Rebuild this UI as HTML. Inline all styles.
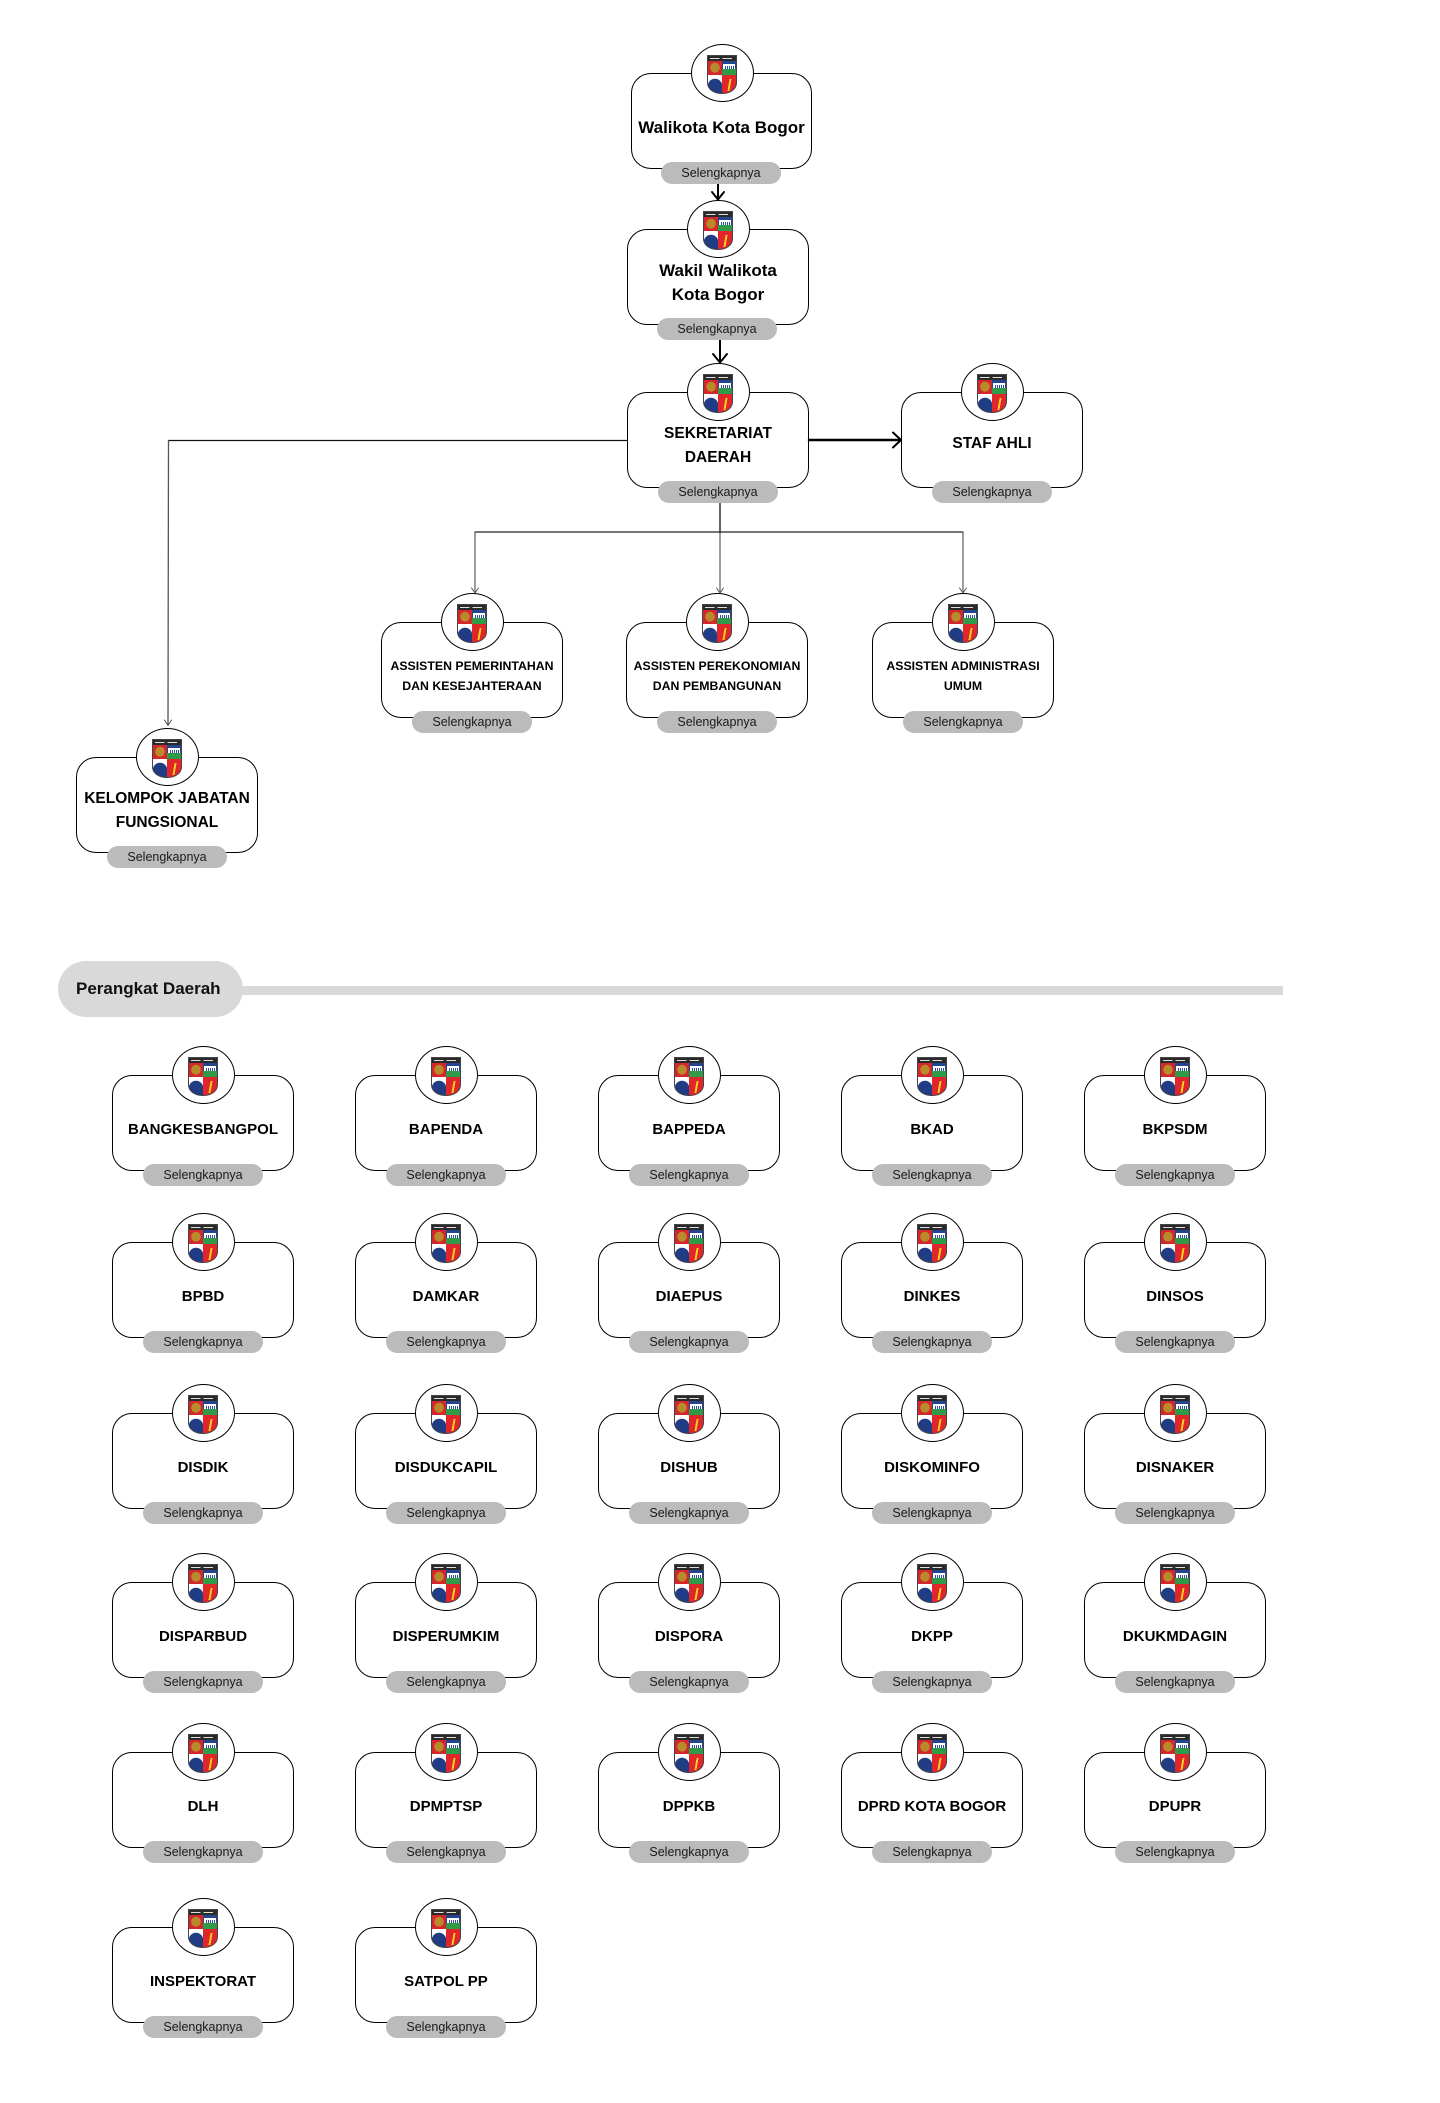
<!DOCTYPE html>
<html>
<head>
<meta charset="utf-8">
<style>
html,body{margin:0;padding:0;background:#fff;}
body{width:1440px;height:2103px;position:relative;overflow:hidden;font-family:"Liberation Sans",Arial,sans-serif;}
svg.wires{position:absolute;left:0;top:0;width:1440px;height:2103px;}
.n{position:absolute;width:182px;height:96px;}
.n::before{content:"";position:absolute;left:0;top:0;right:0;bottom:0;border:1.5px solid #000;border-radius:20px;}
.c{position:absolute;left:59.5px;top:-29px;width:63px;height:58px;box-sizing:border-box;border:1.5px solid #000;border-radius:50%;background:#fff;}
.c i{display:block;position:absolute;left:15px;top:10px;width:28px;height:37px;border:1px solid #444;border-radius:0 0 14px 14px/0 0 11px 11px;overflow:hidden;
background:
 linear-gradient(90deg,#ddd 0 40%,transparent 40% 52%,#ddd 52% 92%,transparent 92%) 2px 2px/24px 1px no-repeat,
 linear-gradient(#2a2a2a,#2a2a2a) 0 0/100% 5px no-repeat,
 radial-gradient(ellipse at 50% 48%,#b98a2c 0 46%,transparent 50%) 0 5px/14px 14px no-repeat,
 repeating-linear-gradient(90deg,#fff 0 1px,#2d4f9a 1px 2px) 16px 9.5px/10px 3px no-repeat,
 linear-gradient(#fff,#fff) 15px 8px/12px 5px no-repeat,
 linear-gradient(#2f9a48,#2f9a48) 14px 13px/14px 6px no-repeat,
 linear-gradient(#23448e,#23448e) 14px 5px/14px 8px no-repeat,
 linear-gradient(#d4262b,#d4262b) 0 5px/14px 14px no-repeat,
 linear-gradient(#1f3c85,#1f3c85) 0 30px/14px 8px no-repeat,
 radial-gradient(circle at 7px 8px,#1f3c85 0 7px,transparent 7.5px) 0 22px/14px 16px no-repeat,
 linear-gradient(100deg,transparent 36%,#f2d21c 36% 64%,transparent 64%) 19px 23px/5px 12px no-repeat,
 linear-gradient(#fff,#fff) 0 19px/14px 18px no-repeat,
 linear-gradient(#e1262b,#e1262b) 14px 19px/14px 18px no-repeat;}
.t{position:absolute;left:0;right:0;top:43px;text-align:center;font-weight:bold;font-size:15px;line-height:24px;color:#000;white-space:nowrap;}
.t.big{font-size:17px;}
.t.mid{font-size:15.5px;}
.t.sm{font-size:12.3px;line-height:20px;top:34px;}
.p{position:absolute;left:31px;top:89px;width:120px;height:22px;border-radius:11px;background:#bbbbbb;font-size:12.5px;line-height:22px;text-align:center;color:#1a1a1a;}
.hdr{position:absolute;left:58px;top:961px;width:185px;height:56px;border-radius:28px;background:#d9d9d9;box-sizing:border-box;padding-left:18px;font-weight:bold;font-size:17px;line-height:56px;color:#111;}
.hline{position:absolute;left:238px;top:986px;width:1045px;height:9px;background:#d9d9d9;}
</style>
</head>
<body>
<svg class="wires" viewBox="0 0 1440 2103" xmlns="http://www.w3.org/2000/svg">
 <g fill="none" stroke-linecap="round" stroke-linejoin="round">
  <line x1="718" y1="184" x2="718" y2="199" stroke="#000" stroke-width="2"/>
  <polyline points="712,192 718,199.5 724,192" stroke="#000" stroke-width="2"/>
  <line x1="720" y1="340" x2="720" y2="362" stroke="#000" stroke-width="2"/>
  <polyline points="713,354 720,362.5 727,354" stroke="#000" stroke-width="2"/>
  <line x1="809" y1="440" x2="900" y2="440" stroke="#000" stroke-width="2.5"/>
  <polyline points="893,432.5 901,440 893,447.5" stroke="#000" stroke-width="2"/>
  <polyline points="627,440.5 168.5,440.5" stroke="#111" stroke-width="1.3"/>
  <line x1="168.5" y1="440.5" x2="168" y2="725" stroke="#555" stroke-width="1.3"/>
  <polyline points="164.5,720 168,725.5 171.5,720" stroke="#555" stroke-width="1"/>
  <line x1="720" y1="503" x2="720" y2="532" stroke="#111" stroke-width="1.3"/>
  <line x1="720" y1="532" x2="720" y2="592" stroke="#666" stroke-width="1.3"/>
  <line x1="475" y1="532" x2="963" y2="532" stroke="#222" stroke-width="1.3"/>
  <line x1="475" y1="532" x2="475" y2="592" stroke="#666" stroke-width="1.3"/>
  <line x1="963" y1="532" x2="963" y2="592" stroke="#666" stroke-width="1.3"/>
  <polyline points="471.5,588 475,593 478.5,588" stroke="#555" stroke-width="1"/>
  <polyline points="716.5,588 720,593 723.5,588" stroke="#555" stroke-width="1"/>
  <polyline points="959.5,588 963,593 966.5,588" stroke="#555" stroke-width="1"/>
 </g>
</svg>

<!-- Top hierarchy -->
<div class="n" style="left:631px;top:73px;width:181px"><div class="c"><i></i></div><div class="t big">Walikota Kota Bogor</div><div class="p" style="left:30px">Selengkapnya</div></div>
<div class="n" style="left:627px;top:229px"><div class="c"><i></i></div><div class="t big" style="top:30px">Wakil Walikota<br>Kota Bogor</div><div class="p" style="left:30px">Selengkapnya</div></div>
<div class="n" style="left:627px;top:392px"><div class="c"><i></i></div><div class="t mid" style="top:30px">SEKRETARIAT<br>DAERAH</div><div class="p">Selengkapnya</div></div>
<div class="n" style="left:901px;top:392px"><div class="c"><i></i></div><div class="t mid" style="top:40px">STAF AHLI</div><div class="p">Selengkapnya</div></div>

<div class="n" style="left:381px;top:622px"><div class="c"><i></i></div><div class="t sm">ASSISTEN PEMERINTAHAN<br>DAN KESEJAHTERAAN</div><div class="p">Selengkapnya</div></div>
<div class="n" style="left:626px;top:622px"><div class="c"><i></i></div><div class="t sm">ASSISTEN PEREKONOMIAN<br>DAN PEMBANGUNAN</div><div class="p">Selengkapnya</div></div>
<div class="n" style="left:872px;top:622px"><div class="c"><i></i></div><div class="t sm">ASSISTEN ADMINISTRASI<br>UMUM</div><div class="p">Selengkapnya</div></div>

<div class="n" style="left:76px;top:757px"><div class="c"><i></i></div><div class="t mid" style="top:30px">KELOMPOK JABATAN<br>FUNGSIONAL</div><div class="p">Selengkapnya</div></div>

<!-- Header -->
<div class="hline"></div>
<div class="hdr">Perangkat Daerah</div>

<!-- Grid row 1 -->
<div class="n" style="left:112px;top:1075px"><div class="c"><i></i></div><div class="t">BANGKESBANGPOL</div><div class="p">Selengkapnya</div></div>
<div class="n" style="left:355px;top:1075px"><div class="c"><i></i></div><div class="t">BAPENDA</div><div class="p">Selengkapnya</div></div>
<div class="n" style="left:598px;top:1075px"><div class="c"><i></i></div><div class="t">BAPPEDA</div><div class="p">Selengkapnya</div></div>
<div class="n" style="left:841px;top:1075px"><div class="c"><i></i></div><div class="t">BKAD</div><div class="p">Selengkapnya</div></div>
<div class="n" style="left:1084px;top:1075px"><div class="c"><i></i></div><div class="t">BKPSDM</div><div class="p">Selengkapnya</div></div>

<!-- Grid row 2 -->
<div class="n" style="left:112px;top:1242px"><div class="c"><i></i></div><div class="t">BPBD</div><div class="p">Selengkapnya</div></div>
<div class="n" style="left:355px;top:1242px"><div class="c"><i></i></div><div class="t">DAMKAR</div><div class="p">Selengkapnya</div></div>
<div class="n" style="left:598px;top:1242px"><div class="c"><i></i></div><div class="t">DIAEPUS</div><div class="p">Selengkapnya</div></div>
<div class="n" style="left:841px;top:1242px"><div class="c"><i></i></div><div class="t">DINKES</div><div class="p">Selengkapnya</div></div>
<div class="n" style="left:1084px;top:1242px"><div class="c"><i></i></div><div class="t">DINSOS</div><div class="p">Selengkapnya</div></div>

<!-- Grid row 3 -->
<div class="n" style="left:112px;top:1413px"><div class="c"><i></i></div><div class="t">DISDIK</div><div class="p">Selengkapnya</div></div>
<div class="n" style="left:355px;top:1413px"><div class="c"><i></i></div><div class="t">DISDUKCAPIL</div><div class="p">Selengkapnya</div></div>
<div class="n" style="left:598px;top:1413px"><div class="c"><i></i></div><div class="t">DISHUB</div><div class="p">Selengkapnya</div></div>
<div class="n" style="left:841px;top:1413px"><div class="c"><i></i></div><div class="t">DISKOMINFO</div><div class="p">Selengkapnya</div></div>
<div class="n" style="left:1084px;top:1413px"><div class="c"><i></i></div><div class="t">DISNAKER</div><div class="p">Selengkapnya</div></div>

<!-- Grid row 4 -->
<div class="n" style="left:112px;top:1582px"><div class="c"><i></i></div><div class="t">DISPARBUD</div><div class="p">Selengkapnya</div></div>
<div class="n" style="left:355px;top:1582px"><div class="c"><i></i></div><div class="t">DISPERUMKIM</div><div class="p">Selengkapnya</div></div>
<div class="n" style="left:598px;top:1582px"><div class="c"><i></i></div><div class="t">DISPORA</div><div class="p">Selengkapnya</div></div>
<div class="n" style="left:841px;top:1582px"><div class="c"><i></i></div><div class="t">DKPP</div><div class="p">Selengkapnya</div></div>
<div class="n" style="left:1084px;top:1582px"><div class="c"><i></i></div><div class="t">DKUKMDAGIN</div><div class="p">Selengkapnya</div></div>

<!-- Grid row 5 -->
<div class="n" style="left:112px;top:1752px"><div class="c"><i></i></div><div class="t">DLH</div><div class="p">Selengkapnya</div></div>
<div class="n" style="left:355px;top:1752px"><div class="c"><i></i></div><div class="t">DPMPTSP</div><div class="p">Selengkapnya</div></div>
<div class="n" style="left:598px;top:1752px"><div class="c"><i></i></div><div class="t">DPPKB</div><div class="p">Selengkapnya</div></div>
<div class="n" style="left:841px;top:1752px"><div class="c"><i></i></div><div class="t">DPRD KOTA BOGOR</div><div class="p">Selengkapnya</div></div>
<div class="n" style="left:1084px;top:1752px"><div class="c"><i></i></div><div class="t">DPUPR</div><div class="p">Selengkapnya</div></div>

<!-- Grid row 6 -->
<div class="n" style="left:112px;top:1927px"><div class="c"><i></i></div><div class="t">INSPEKTORAT</div><div class="p">Selengkapnya</div></div>
<div class="n" style="left:355px;top:1927px"><div class="c"><i></i></div><div class="t">SATPOL PP</div><div class="p">Selengkapnya</div></div>
</body>
</html>
